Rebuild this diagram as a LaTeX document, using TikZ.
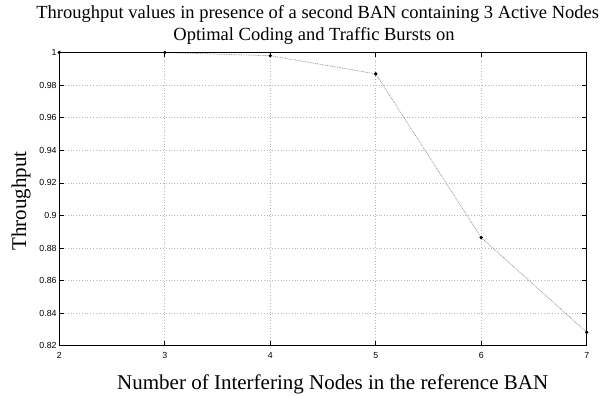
\documentclass[tikz,border=0pt]{standalone}
\usepackage{fontspec}
\setmainfont{Liberation Serif}
\newfontfamily\ticksfont{Liberation Sans}
\begin{document}
\begin{tikzpicture}[x=1pt,y=1pt,
  gridline/.style={draw=gray!55, line width=0.6pt, dash pattern=on 0.8pt off 2pt},
  axisframe/.style={draw=black, line width=1pt},
  tickmark/.style={draw=black, line width=0.6pt},
  ticklabel/.style={font=\ticksfont\fontsize{8.8}{10}\selectfont, inner sep=0pt},
  datapath/.style={draw=gray!80, line width=0.8pt, dash pattern=on 0.8pt off 0.9pt},
  datadot/.style={circle, fill=black, inner sep=0pt, minimum size=3.4pt},
  titletext/.style={font=\fontsize{18.5}{22}\selectfont, inner sep=0pt},
  axislabel/.style={font=\fontsize{21}{24}\selectfont, inner sep=0pt}]
\useasboundingbox (0,0) rectangle (613,396);
\fill[white] (0,0) rectangle (613,396);
\begin{scope}[x=105.48pt, y=1630.6pt, shift={(-151.66pt,-1287.09pt)}]
  % grid
  \foreach \v in {3,4,5,6} \draw[gridline] (\v,0.82) -- (\v,1);
  \foreach \t in {0.84,0.86,0.88,0.9,0.92,0.94,0.96,0.98} \draw[gridline] (2,\t) -- (7,\t);
  % frame corners
  \coordinate (ll) at (2,0.82);
  \coordinate (ur) at (7,1);
  % ticks
  \foreach \v in {3,4,5,6} {
    \draw[tickmark] (\v,0.82) -- ++(0,5pt);
    \draw[tickmark] (\v,1) -- ++(0,-5pt);
  }
  \foreach \t in {0.84,0.86,0.88,0.9,0.92,0.94,0.96,0.98} {
    \draw[tickmark] (2,\t) -- ++(5pt,0);
    \draw[tickmark] (7,\t) -- ++(-5pt,0);
  }
  % data
  \node[datadot] (p2) at (2,1.0) {};
  \node[datadot] (p3) at (3,1.0) {};
  \node[datadot] (p4) at (4,0.998) {};
  \node[datadot] (p5) at (5,0.9869) {};
  \node[datadot] (p6) at (6,0.8865) {};
  \node[datadot] (p7) at (7,0.8284) {};
  \draw[datapath] (p2.center) -- (p3.center) -- (p4.center) -- (p5.center) -- (p6.center) -- (p7.center);
  \draw[axisframe] (ll) rectangle (ur);
  \foreach \p in {p2,p3,p4,p5,p6,p7} \fill (\p) circle (1.7pt);
  % tick labels
  \foreach \v in {2,3,4,5,6,7} \node[ticklabel] (xl\v) at ([yshift=-9.7pt]\v,0.82) {\v};
  \foreach \t/\s in {1/1,0.98/0.98,0.96/0.96,0.94/0.94,0.92/0.92,0.9/0.9,0.88/0.88,0.86/0.86,0.84/0.84} \node[ticklabel, anchor=east] (yl\s) at ([xshift=-2.5pt]2,\t) {\s};
  \node[ticklabel, anchor=east] (yl082) at ([xshift=-2.5pt,yshift=0.5pt]2,0.82) {0.82};
\end{scope}
% titles
\node[titletext, anchor=base] (title1) at (317.7,377) {Throughput values in presence of a second BAN containing 3 Active Nodes};
\node[titletext, anchor=base] (title2) at (314,355.5) {Optimal Coding and Traffic Bursts on};
\node[axislabel, anchor=base] (xlabel) at (332.7,6) {Number of Interfering Nodes in the reference BAN};
\node[axislabel, anchor=base, rotate=90] (ylabel) at (26,195) {Throughput};
\end{tikzpicture}
\end{document}
